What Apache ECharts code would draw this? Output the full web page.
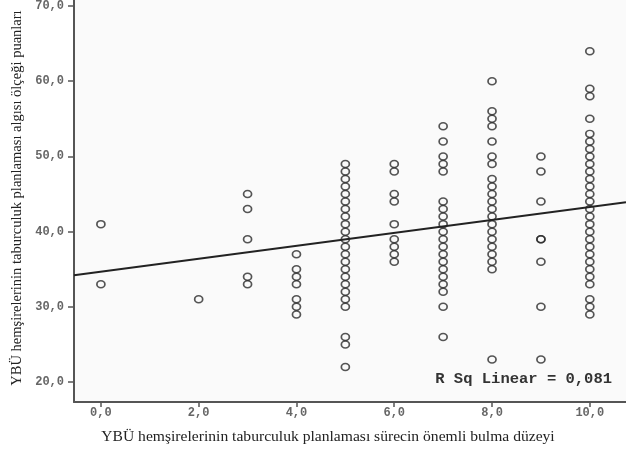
<!DOCTYPE html>
<html><head><meta charset="utf-8">
<script src="https://cdn.jsdelivr.net/npm/echarts@6/dist/echarts.min.js"></script>
<style>html,body{margin:0;padding:0;background:#fff}#c{width:626px;height:450px}</style>
</head><body><div id="c"></div>
<script>
// Data (x = importance level, y = scale score)
const x0 = [41, 33];
const x2 = [31];
const x3 = [45, 43, 39, 34, 33];
const x4 = [37, 35, 34, 33, 31, 30, 29];
const x5 = [49,48,47,46,45,44,43,42,41,40,39,38,37,36,35,34,33,32,31,30, 26, 25, 22];
const x6 = [49, 48, 45, 44, 41, 39, 38, 37, 36];
const x7 = [54, 52, 50, 49, 48, 44,43,42,41,40,39,38,37,36,35,34,33, 32, 30, 26];
const x8 = [60, 56, 55, 54, 52, 50, 49, 47,46,45,44,43,42,41,40,39,38,37,36,35, 23];
const x9 = [50, 48, 44, 39, 39, 36, 30, 23];
const x10 = [64, 59, 58, 55, 53,52,51,50,49,48,47,46,45,44,43,42,41,40,39,38,37,36,35,34,33, 31, 30, 29];
const xTicks = [0, 2, 4, 6, 8, 10];
const yTicks = [20, 30, 40, 50, 60, 70];
const fitIntercept = 34.67;
const fitSlope = 0.86;
const rSqText = 'R Sq Linear = 0,081';
const xTitle = 'YBÜ hemşirelerinin taburculuk planlaması sürecin önemli bulma düzeyi';
const yTitle = 'YBÜ hemşirelerinin taburculuk planlaması algısı ölçeği puanları';

const columns = [[0,x0],[2,x2],[3,x3],[4,x4],[5,x5],[6,x6],[7,x7],[8,x8],[9,x9],[10,x10]];
const points = [];
columns.forEach(([x, ys]) => ys.forEach(y => points.push([x, y])));

const xMin = -0.55, xMax = 10.74, yMin = 17.35, yMax = 70.8;
const fitLine = [[xMin, fitIntercept + fitSlope * xMin], [xMax, fitIntercept + fitSlope * xMax]];
const fmt = v => v.toFixed(1).replace('.', ',');
const tickFont = {fontFamily: '"Liberation Mono", "DejaVu Sans Mono", monospace', fontSize: 12, fontWeight: 'bold', color: '#666'};

const chart = echarts.init(document.getElementById('c'));
chart.setOption({
  animation: false,
  backgroundColor: '#fff',
  grid: {left: 74, right: 0, top: 0, bottom: 47, show: true, backgroundColor: '#fafafa', borderWidth: 0},
  xAxis: {
    type: 'value', min: xMin, max: xMax, splitLine: {show: false},
    axisLine: {onZero: false, lineStyle: {color: '#555', width: 2}},
    axisTick: {customValues: xTicks, length: 5, lineStyle: {color: '#555', width: 1.5}},
    axisLabel: Object.assign({customValues: xTicks, formatter: fmt, margin: 5}, tickFont),
    name: xTitle, nameLocation: 'middle', nameGap: 27,
    nameTextStyle: {fontFamily: '"Liberation Serif", "DejaVu Serif", serif', fontSize: 15.6, color: '#222', padding: [0, 44, 0, 0]}
  },
  yAxis: {
    type: 'value', min: yMin, max: yMax, splitLine: {show: false},
    axisLine: {onZero: false, lineStyle: {color: '#555', width: 2}},
    axisTick: {customValues: yTicks, length: 6, lineStyle: {color: '#555', width: 1.5}},
    axisLabel: Object.assign({customValues: yTicks, formatter: fmt, margin: 10}, tickFont),
    name: yTitle, nameLocation: 'middle', nameGap: 46,
    nameTextStyle: {fontFamily: '"Liberation Serif", "DejaVu Serif", serif', fontSize: 14.5, color: '#222', padding: [0, 0, 0, 6]}
  },
  series: [
    {type: 'scatter', data: points, symbol: 'circle', symbolSize: [8, 7],
     itemStyle: {color: 'rgba(0,0,0,0)', borderColor: '#2a2a2a', borderWidth: 1.6}},
    {type: 'line', data: fitLine, symbol: 'none', lineStyle: {color: '#222', width: 2}, z: 3}
  ],
  graphic: [{type: 'text', right: 14, top: 371,
    style: {text: rSqText, font: 'bold 15.5px "Liberation Mono", "DejaVu Sans Mono", monospace', fill: '#333'}}]
});
</script></body></html>
